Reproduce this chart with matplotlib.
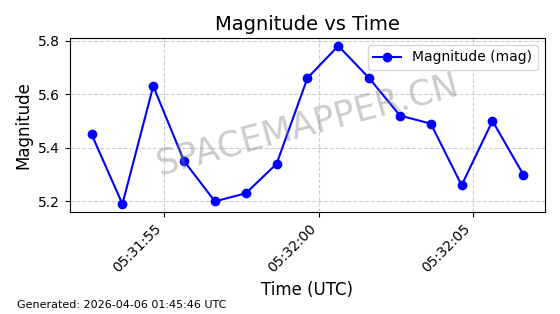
import numpy as np
import pandas as pd
import matplotlib
matplotlib.use("Agg")
import matplotlib.pyplot as plt
import matplotlib.dates as mdates

# =========================================================
# DATA
# =========================================================
START_TIME = "2026-04-06 05:31:52.64"
N_POINTS = 15
MAGNITUDES = [5.45, 5.19, 5.63, 5.35, 5.20, 5.23, 5.34, 5.66,
              5.78, 5.66, 5.52, 5.49, 5.26, 5.50, 5.30]
GENERATED = "Generated: 2026-04-06 01:45:46 UTC"
WATERMARK = "SPACEMAPPER.CN"


def main():
    times = pd.date_range(START_TIME, periods=N_POINTS, freq="1s")

    fig, ax = plt.subplots(figsize=(5.6, 3.14), dpi=100)

    ax.plot(times, MAGNITUDES, marker="o", color="blue",
            linewidth=1.5, markersize=6, label="Magnitude (mag)")

    ax.set_title("Magnitude vs Time", fontsize=14)
    ax.set_xlabel("Time (UTC)", fontsize=12)
    ax.set_ylabel("Magnitude", fontsize=12)

    ax.xaxis.set_major_locator(mdates.SecondLocator(bysecond=range(0, 60, 5)))
    ax.xaxis.set_major_formatter(mdates.DateFormatter("%H:%M:%S"))
    for label in ax.get_xticklabels():
        label.set_rotation(45)
        label.set_ha("right")

    ax.set_yticks([5.2, 5.4, 5.6, 5.8])
    ax.grid(True, linestyle="--", alpha=0.6)
    ax.legend(loc="upper right", fontsize=10)

    # watermark
    ax.text(0.5, 0.5, WATERMARK, transform=ax.transAxes, fontsize=25,
            color="gray", alpha=0.4, rotation=15, ha="center", va="center")

    fig.text(0.03, 0.02, GENERATED, fontsize=8)

    plt.subplots_adjust(left=0.125, right=0.973, top=0.879, bottom=0.325)
    plt.savefig("out.png", dpi=100)
    plt.close()


if __name__ == "__main__":
    main()
